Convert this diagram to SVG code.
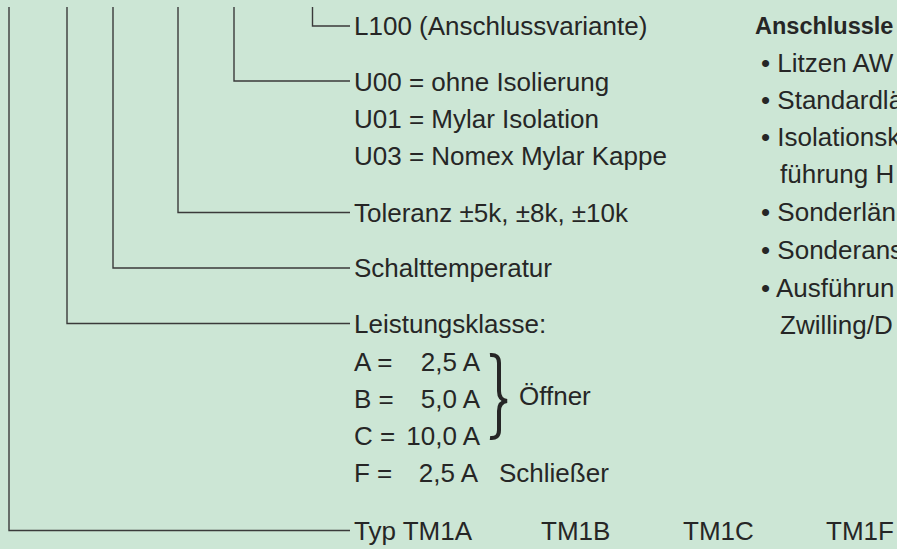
<svg xmlns="http://www.w3.org/2000/svg" width="897" height="549" viewBox="0 0 897 549">
<style>
.bg{fill:#cce6d5}
.t{font-family:"Liberation Sans",Arial,sans-serif;font-size:26px;fill:#262626}
.h{font-family:"Liberation Sans",Arial,sans-serif;font-size:23.5px;font-weight:bold;fill:#262626}
.c{fill:none;stroke:#3a3a3a;stroke-width:1.4}
.br{fill:none;stroke:#262626;stroke-width:4;stroke-linecap:butt}
.e{text-anchor:end}
</style>
<rect class="bg" x="0" y="0" width="897" height="549"/>
<g id="connectors">
<polyline class="c" points="312.5,7 312.5,26 350,26"/>
<polyline class="c" points="234,7 234,81 350,81"/>
<polyline class="c" points="178,7 178,212.5 350,212.5"/>
<polyline class="c" points="113,7 113,268 350,268"/>
<polyline class="c" points="67,7 67,323.5 350,323.5"/>
<polyline class="c" points="9,7 9,530.5 350,530.5"/>
</g>
<g id="anschluss">
<text class="t" x="354" y="35">L100 (Anschlussvariante)</text>
</g>
<g id="isolierung">
<text class="t" x="354" y="91">U00 = ohne Isolierung</text>
<text class="t" x="354" y="128">U01 = Mylar Isolation</text>
<text class="t" x="354" y="165">U03 = Nomex Mylar Kappe</text>
</g>
<g id="toleranz">
<text class="t" x="354" y="222">Toleranz ±5k, ±8k, ±10k</text>
</g>
<g id="schalttemperatur">
<text class="t" x="354" y="277">Schalttemperatur</text>
</g>
<g id="leistungsklasse">
<text class="t" x="354" y="333">Leistungsklasse:</text>
<text class="t" x="354" y="371">A =</text>
<text class="t e" x="480" y="371">2,5 A</text>
<text class="t" x="354" y="408">B =</text>
<text class="t e" x="480" y="408">5,0 A</text>
<text class="t" x="354" y="445">C =</text>
<text class="t e" x="480" y="445">10,0 A</text>
<text class="t" x="354" y="482">F =</text>
<text class="t e" x="478" y="482">2,5 A</text>
<text class="t" x="499" y="482">Schließer</text>
<path class="br" d="M490,355 Q499,354 499,363 L499,391 Q499,400 507,401 Q499,402 499,411 L499,430 Q499,439 490,438"/>
<text class="t" x="519" y="405">Öffner</text>
</g>
<g id="typ">
<text class="t" x="354" y="540">Typ TM1A</text>
<text class="t" x="541" y="540">TM1B</text>
<text class="t" x="683" y="540">TM1C</text>
<text class="t" x="826" y="540">TM1F</text>
</g>
<g id="anschlussleitung">
<text class="h" x="755" y="34">Anschlussle</text>
<text class="t" x="761" y="72">• Litzen AW</text>
<text class="t" x="761" y="109">• Standardlä</text>
<text class="t" x="761" y="146">• Isolationsk</text>
<text class="t" x="780" y="183">führung H</text>
<text class="t" x="761" y="221">• Sonderlän</text>
<text class="t" x="761" y="259">• Sonderans</text>
<text class="t" x="761" y="297">• Ausführun</text>
<text class="t" x="780" y="334">Zwilling/D</text>
</g>
</svg>
